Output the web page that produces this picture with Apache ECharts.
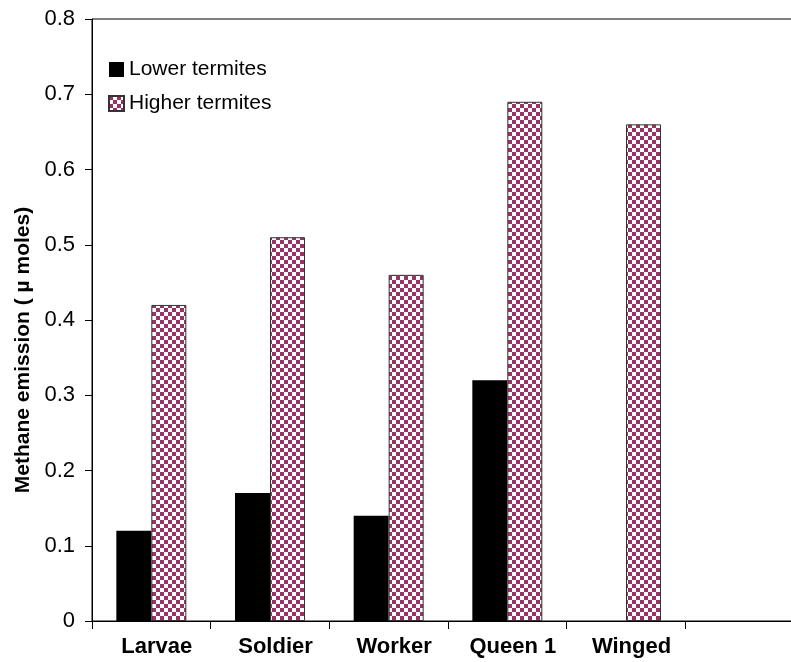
<!DOCTYPE html>
<html>
<head>
<meta charset="utf-8">
<script src="https://cdn.jsdelivr.net/npm/echarts@6/dist/echarts.min.js"></script>
<style>
  html, body { margin: 0; padding: 0; background: #fff; overflow: hidden; }
  /* the original picture is cropped on the right, so the chart is a bit wider than the window */
  #main { width: 804px; height: 662px; }
</style>
</head>
<body>
<div id="main"></div>
<script>
// categories (the last slot is empty in the original)
const categories = ['Larvae', 'Soldier', 'Worker', 'Queen 1', 'Winged', ''];
const lowerTermites = [0.12, 0.17, 0.14, 0.32, null, null];
const higherTermites = [0.42, 0.51, 0.46, 0.69, 0.66, null];
const seriesNames = ['Lower termites', 'Higher termites'];

// checker pattern for the higher termites bars
function makeChecker() {
  const c = document.createElement('canvas');
  c.width = 8; c.height = 8;
  const ctx = c.getContext('2d');
  ctx.fillStyle = '#ffffff';
  ctx.fillRect(0, 0, 8, 8);
  ctx.fillStyle = '#993366';
  ctx.fillRect(0, 0, 4, 4);
  ctx.fillRect(4, 4, 4, 4);
  return c;
}
const checker = { image: makeChecker(), repeat: 'repeat' };

const chartDom = document.getElementById('main');
const myChart = echarts.init(chartDom);

const option = {
  animation: false,
  textStyle: { fontFamily: 'Liberation Sans, Arial, sans-serif' },
  grid: {
    left: 92,
    top: 19,
    bottom: 41,
    right: 0,
    containLabel: false,
    outerBoundsMode: 'none',
    show: true,
    borderColor: '#000',
    borderWidth: 1
  },
  legend: {
    orient: 'vertical',
    left: 103,
    top: 54,
    itemWidth: 15,
    itemHeight: 15,
    itemGap: 13,
    icon: 'rect',
    textStyle: { fontSize: 21, color: '#000' },
    data: seriesNames
  },
  xAxis: {
    type: 'category',
    data: categories,
    axisLine: { lineStyle: { color: '#000', width: 1 } },
    axisTick: { show: true, length: 8, lineStyle: { color: '#000' } },
    axisLabel: {
      fontSize: 22,
      fontWeight: 'bold',
      color: '#000',
      margin: 15,
      padding: [0, 0, 0, 11]
    }
  },
  yAxis: {
    type: 'value',
    min: 0,
    max: 0.8,
    interval: 0.1,
    name: 'Methane emission ( µ moles)',
    nameLocation: 'middle',
    nameGap: 58,
    nameTextStyle: { fontSize: 21, fontWeight: 'bold', color: '#000', padding: [0, 60, 0, 0] },
    axisLine: { show: true, lineStyle: { color: '#000', width: 1 } },
    axisTick: { show: true, length: 7, lineStyle: { color: '#000' } },
    axisLabel: {
      fontSize: 22,
      color: '#000',
      margin: 17,
      formatter: v => (v === 0 ? '0' : v.toFixed(1))
    },
    splitLine: { show: false }
  },
  series: [
    {
      name: seriesNames[0],
      type: 'bar',
      data: lowerTermites,
      barWidth: 35,
      barGap: '0%',
      itemStyle: { color: '#000' }
    },
    {
      name: seriesNames[1],
      type: 'bar',
      data: higherTermites,
      barWidth: 35,
      itemStyle: { color: checker, borderColor: '#333', borderWidth: 1 }
    }
  ]
};

option && myChart.setOption(option);
</script>
</body>
</html>
